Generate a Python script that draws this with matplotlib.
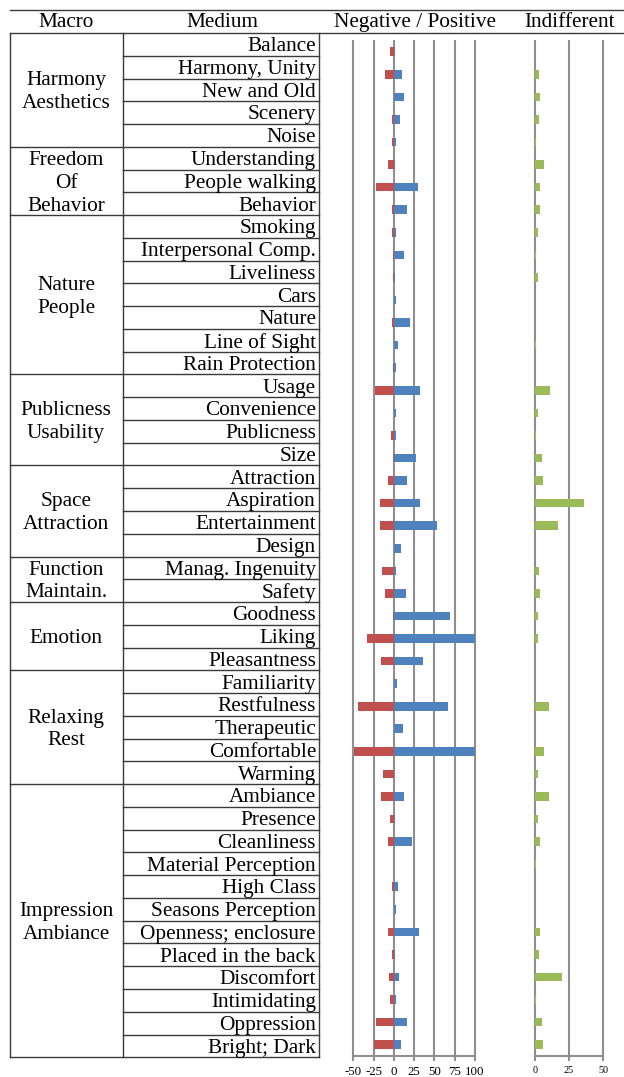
import matplotlib
matplotlib.use("Agg")
import matplotlib.pyplot as plt
import numpy as np

plt.rcParams['font.family'] = ['Liberation Serif', 'DejaVu Serif']

# ---------------- data ----------------
macro_groups = ["Harmony\nAesthetics", "Freedom\nOf\nBehavior", "Nature\nPeople",
                "Publicness\nUsability", "Space\nAttraction", "Function\nMaintain.",
                "Emotion", "Relaxing\nRest", "Impression\nAmbiance"]
group_sizes = [5, 3, 7, 4, 4, 2, 3, 5, 12]

medium = ["Balance", "Harmony, Unity", "New and Old", "Scenery", "Noise",
          "Understanding", "People walking", "Behavior",
          "Smoking", "Interpersonal Comp.", "Liveliness", "Cars", "Nature",
          "Line of Sight", "Rain Protection",
          "Usage", "Convenience", "Publicness", "Size",
          "Attraction", "Aspiration", "Entertainment", "Design",
          "Manag. Ingenuity", "Safety",
          "Goodness", "Liking", "Pleasantness",
          "Familiarity", "Restfulness", "Therapeutic", "Comfortable", "Warming",
          "Ambiance", "Presence", "Cleanliness", "Material Perception", "High Class",
          "Seasons Perception", "Openness; enclosure", "Placed in the back",
          "Discomfort", "Intimidating", "Oppression", "Bright; Dark"]

negative = [-4.5, -11.5, 0, -2.5, -2.5,
            -7.4, -21.8, -2.5,
            -2.5, -0.5, -1.6, 0, -2.5, 0, -1.6,
            -23.4, 0, -3.3, -1.6,
            -7.4, -17.6, -17.6, -0.4,
            -15.2, -11.5,
            -0.5, -33.3, -16.4,
            0, -43.9, 0, -49.3, -13.1,
            -16.4, -4.5, -7.4, 0, -2.5, 0, -7.4, -2.5, -5.7, -4.5, -21.8, -24.6]

positive = [1, 10.3, 13, 7.4, 2.5,
            1, 30, 15.6,
            2.5, 13, 1, 2.5, 19.3, 5, 2.5,
            32.8, 2.5, 2.5, 27,
            15.6, 32.8, 53.4, 8.2,
            2.5, 14.4,
            68.6, 102.6, 35.3,
            3.7, 66.9, 11, 102.6, 0,
            13, 1, 22, 0, 4.5, 2.5, 30.4, 1, 6.2, 2.5, 16.4, 9.4]

indifferent = [0, 3.2, 4.1, 3.2, 1,
               7, 4, 4,
               2.2, 1, 2.2, 0, 0, 0.8, 0,
               11, 2.2, 1, 5,
               6, 36, 17, 0,
               3.2, 4,
               2.2, 2.2, 0,
               0, 10.2, 0, 7, 2.2,
               10.2, 2.2, 4, 1, 0, 0, 4, 3.2, 20, 1, 5, 6]

left_ticks = [-50, -25, 0, 25, 50, 75, 100]
right_ticks = [0, 25, 50]

headers = ["Macro", "Medium", "Negative / Positive", "Indifferent"]

# ---------------- figure ----------------
W, H = 624, 1077
DPI = 100
fig = plt.figure(figsize=(W / DPI, H / DPI), dpi=DPI)
fig.patch.set_facecolor("white")

FS = 15.3  # pt
TOFF = 2.3  # px downward text offset
LINE = "#3a3a3a"
GRID = "#8f8f8f"
RED = "#C0504D"
BLUE = "#4F81BD"
GREEN = "#9BBB59"

# table axes in pixel coords
ax_t = fig.add_axes([0, 0, 1, 1])
ax_t.set_xlim(0, W)
ax_t.set_ylim(H, 0)
ax_t.axis("off")

x_left, x_mid, x_right = 10, 123, 319
y_top, y_bot = 33, 1057.3
n = len(medium)
rh = (y_bot - y_top) / n

# header lines
ax_t.plot([x_left, W], [10, 10], color=LINE, lw=1.0)
ax_t.plot([x_left, W], [y_top, y_top], color=LINE, lw=1.0)
# header text
hy = 21.5 + TOFF - 1
ax_t.text(66, hy, headers[0], ha="center", va="center", fontsize=FS)
ax_t.text(222, hy, headers[1], ha="center", va="center", fontsize=FS)
ax_t.text(415, hy, headers[2], ha="center", va="center", fontsize=FS)
ax_t.text(570, hy, headers[3], ha="center", va="center", fontsize=FS)

# verticals
for xv in (x_left, x_mid, x_right):
    ax_t.plot([xv, xv], [y_top, y_bot], color=LINE, lw=1.0)

# row lines
boundaries = set(np.cumsum(group_sizes).tolist())
for k in range(1, n + 1):
    yk = y_top + k * rh
    if k in boundaries:
        ax_t.plot([x_left, x_right], [yk, yk], color=LINE, lw=1.0)
    else:
        ax_t.plot([x_mid, x_right], [yk, yk], color=LINE, lw=1.0)

# medium labels
for i, name in enumerate(medium):
    ax_t.text(316, y_top + (i + 0.5) * rh + TOFF, name, ha="right",
              va="center", fontsize=FS)

# macro labels
start = 0
for g, size in zip(macro_groups, group_sizes):
    c = y_top + (start + size / 2) * rh
    lines = g.split("\n")
    m = len(lines)
    for j, ln in enumerate(lines):
        yy = c + (j - (m - 1) / 2) * rh + TOFF
        ax_t.text(66, yy, ln, ha="center", va="center", fontsize=FS)
    start += size

# ---------------- bar charts ----------------
gy_top, gy_bot = 40.5, 1056
bottom = (H - gy_bot) / H
height = (gy_bot - gy_top) / H
ypos = np.arange(n)
bh = 0.38


def style_axis(ax, ticks, xlo, xhi, fs):
    ax.set_xlim(xlo, xhi)
    ax.set_ylim(n - 0.5, -0.5)
    ax.set_facecolor("none")
    for s in ("top", "left", "right"):
        ax.spines[s].set_visible(False)
    ax.spines["bottom"].set_color(GRID)
    ax.spines["bottom"].set_linewidth(1.5)
    ax.set_yticks([])
    ax.set_xticks(ticks)
    ax.set_xticklabels([str(t) for t in ticks], fontsize=fs)
    ax.tick_params(axis="x", direction="out", length=3.5, width=1.5,
                   color=GRID, pad=4)
    for t in ticks:
        ax.axvline(t, color=GRID, lw=1.5, zorder=0, clip_on=False)


axL = fig.add_axes([353.3 / W, bottom, (475 - 353.3) / W, height])
style_axis(axL, left_ticks, -50, 100, 9.3)
axL.barh(ypos, negative, height=bh, color=RED, linewidth=0, zorder=2)
axL.barh(ypos, positive, height=bh, color=BLUE, linewidth=0, zorder=2)

axR = fig.add_axes([534.7 / W, bottom, (603 - 534.7) / W, height])
style_axis(axR, right_ticks, 0, 50, 7.3)
axR.barh(ypos, indifferent, height=bh, color=GREEN, linewidth=0, zorder=2)

fig.savefig("out.png", dpi=DPI, facecolor="white")
